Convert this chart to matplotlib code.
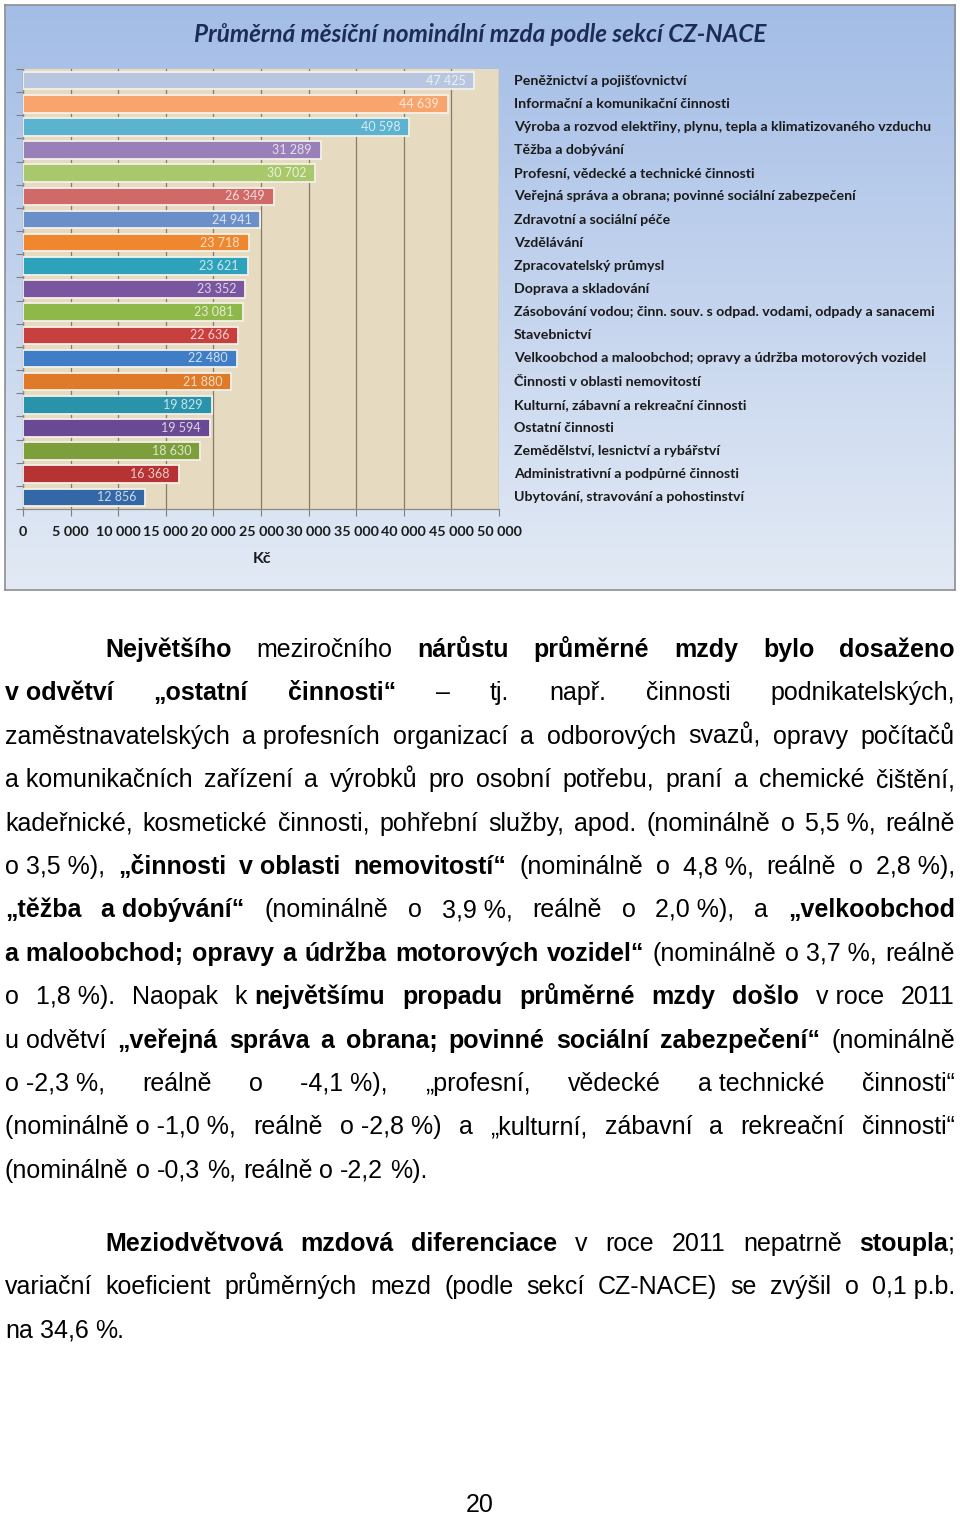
import matplotlib
matplotlib.use('Agg')
import matplotlib.pyplot as plt
from matplotlib.colors import LinearSegmentedColormap, to_rgb
from matplotlib.ticker import FixedLocator, FuncFormatter
import numpy as np

W, H = 960, 1516

sections = [
    'Peněžnictví a pojišťovnictví',
    'Informační a komunikační činnosti',
    'Výroba a rozvod elektřiny, plynu, tepla a klimatizovaného vzduchu',
    'Těžba a dobývání',
    'Profesní, vědecké a technické činnosti',
    'Veřejná správa a obrana; povinné sociální zabezpečení',
    'Zdravotní a sociální péče',
    'Vzdělávání',
    'Zpracovatelský průmysl',
    'Doprava a skladování',
    'Zásobování vodou; činn. souv. s odpad. vodami, odpady a sanacemi',
    'Stavebnictví',
    'Velkoobchod a maloobchod; opravy a údržba motorových vozidel',
    'Činnosti v oblasti nemovitostí',
    'Kulturní, zábavní a rekreační činnosti',
    'Ostatní činnosti',
    'Zemědělství, lesnictví a rybářství',
    'Administrativní a podpůrné činnosti',
    'Ubytování, stravování a pohostinství',
]
wages = [47425, 44639, 40598, 31289, 30702, 26349, 24941, 23718, 23621, 23352,
         23081, 22636, 22480, 21880, 19829, 19594, 18630, 16368, 12856]
bar_colors = ['#b8c6e0', '#f8a46c', '#5cb3cf', '#9a80b8', '#a9c76b', '#cf6a68',
              '#6b8fc8', '#ef872e', '#2fa2bb', '#7a55a0', '#8fb84a', '#c8403d',
              '#3f7ec6', '#df7a28', '#2893ab', '#694994', '#7c9f3b', '#b73232',
              '#3467a6']
x_ticks = [0, 5000, 10000, 15000, 20000, 25000, 30000, 35000, 40000, 45000, 50000]

title = 'Průměrná měsíční nominální mzda podle sekcí CZ-NACE'
x_label = 'Kč'

# page text, ** toggles bold, \u00a0 = non-breaking space
para1 = [
    '**Největšího** meziročního **nárůstu průměrné mzdy bylo dosaženo**',
    '**v\u00a0odvětví „ostatní činnosti“** – tj. např. činnosti podnikatelských,',
    'zaměstnavatelských a\u00a0profesních organizací a odborových svazů, opravy počítačů',
    'a\u00a0komunikačních zařízení a výrobků pro osobní potřebu, praní a chemické čištění,',
    'kadeřnické, kosmetické činnosti, pohřební služby, apod. (nominálně o 5,5\u00a0%, reálně',
    'o\u00a03,5\u00a0%), **„činnosti v\u00a0oblasti nemovitostí“** (nominálně o 4,8\u00a0%, reálně o 2,8\u00a0%),',
    '**„těžba a\u00a0dobývání“** (nominálně o 3,9\u00a0%, reálně o 2,0\u00a0%), a **„velkoobchod**',
    '**a\u00a0maloobchod; opravy a údržba motorových vozidel“** (nominálně o\u00a03,7\u00a0%, reálně',
    'o 1,8\u00a0%). Naopak k\u00a0**největšímu propadu průměrné mzdy došlo** v\u00a0roce 2011',
    'u\u00a0odvětví **„veřejná správa a obrana; povinné sociální zabezpečení“** (nominálně',
    'o\u00a0-2,3\u00a0%, reálně o -4,1\u00a0%), „profesní, vědecké a\u00a0technické činnosti“',
    '(nominálně\u00a0o\u00a0-1,0\u00a0%, reálně o\u00a0-2,8\u00a0%) a „kulturní, zábavní a rekreační činnosti“',
    '(nominálně o -0,3 %, reálně o -2,2 %).',
]
para2 = [
    '**Meziodvětvová mzdová diferenciace** v roce 2011 nepatrně **stoupla**;',
    'variační koeficient průměrných mezd (podle sekcí CZ-NACE) se zvýšil o 0,1\u00a0p.b.',
    'na 34,6 %.',
]


def fx(px):
    return px / W


def fy(py):
    return 1 - py / H


def lighten(c, k):
    r, g, b = to_rgb(c)
    return (r + (1 - r) * k, g + (1 - g) * k, b + (1 - b) * k)


fig = plt.figure(figsize=(W / 100, H / 100), dpi=100, facecolor='white')
chart_font = ['Lato', 'DejaVu Sans']

# chart frame with blue gradient
ax_bg = fig.add_axes([fx(5), fy(590), fx(950), 585 / H], zorder=0)
grad = np.linspace(0, 1, 256).reshape(-1, 1)
cmap = LinearSegmentedColormap.from_list('bg', ['#a3bde6', '#c4d4ee', '#e3eaf5'])
ax_bg.imshow(grad, aspect='auto', cmap=cmap, extent=[0, 1, 0, 1])
ax_bg.set_xticks([])
ax_bg.set_yticks([])
for s in ax_bg.spines.values():
    s.set_color('#8e8e8e')
    s.set_linewidth(1.2)

ax = fig.add_axes([fx(23), fy(509), fx(476), 440 / H], zorder=1)
ax.set_facecolor('#e6dac0')
ypos = np.arange(len(wages))
ax.barh(ypos, wages, height=0.76, color=bar_colors, edgecolor='#f4f1ea',
        linewidth=1.3, zorder=3)
for y, v, c in zip(ypos, wages, bar_colors):
    ax.annotate(f'{v:,}'.replace(',', ' '), (v, y), xytext=(-6.5, 0),
                textcoords='offset points', ha='right', va='center',
                fontsize=9, family=chart_font, color=lighten(c, 0.75), zorder=4)
    ax.text(1.031, y, sections[y], transform=ax.get_yaxis_transform(),
            ha='left', va='center', fontsize=10.2, family=chart_font,
            weight='bold', color='#1a1a1a')

ax.set_xlim(0, 50000)
ax.set_ylim(len(wages) - 0.5, -0.5)
ax.xaxis.set_major_locator(FixedLocator(x_ticks))
ax.xaxis.set_major_formatter(FuncFormatter(lambda v, p: f'{int(v):,}'.replace(',', ' ')))
ax.yaxis.set_major_locator(FixedLocator(np.arange(-0.5, len(wages), 1)))
ax.set_yticklabels([])
ax.grid(axis='x', color='#857c6b', linewidth=0.9, zorder=1)
ax.set_axisbelow(True)
ax.tick_params(axis='x', length=5, width=0.8, color='#7f7f7f', pad=7,
               labelsize=10.3, labelcolor='#1a1a1a')
ax.tick_params(axis='y', length=5, width=0.8, color='#7f7f7f')
for lbl in ax.get_xticklabels():
    lbl.set_family(chart_font)
    lbl.set_weight('bold')
for side in ['top', 'right']:
    ax.spines[side].set_visible(False)
for side in ['left', 'bottom']:
    ax.spines[side].set_color('#8a8a8a')
    ax.spines[side].set_linewidth(0.9)

fig.text(fx(262), fy(559), x_label, ha='center', va='center', fontsize=11.5,
         weight='bold', family=chart_font, color='#1a1a1a')
fig.text(fx(480), fy(35), title, ha='center', va='center', fontsize=17.5,
         weight='bold', style='italic', family=chart_font, color='#1d2b58')

# justified body text
text_font = ['Liberation Sans', 'DejaVu Sans']
text_size = 18
renderer = fig.canvas.get_renderer()
_cache = {}


def width(s, bold):
    key = (s, bold)
    if key not in _cache:
        t = fig.text(0, 0, s, fontsize=text_size, family=text_font,
                     weight='bold' if bold else 'normal')
        _cache[key] = t.get_window_extent(renderer).width
        t.remove()
    return _cache[key]


def parse(line):
    words = [[]]
    for i, chunk in enumerate(line.split('**')):
        bold = i % 2 == 1
        for j, part in enumerate(chunk.split(' ')):
            if j > 0:
                words.append([])
            if part:
                words[-1].append((part, bold))
    return [w for w in words if w]


def draw_paragraph(lines, first_base, step=43.4, left=5, right=955, indent=100):
    space = width('a a', False) - width('aa', False)
    for n, line in enumerate(lines):
        words = parse(line)
        x0 = left + indent if n == 0 else left
        wsum = sum(width(s, b) for w in words for s, b in w)
        last = n == len(lines) - 1
        gap = space if last or len(words) < 2 else (right - x0 - wsum) / (len(words) - 1)
        x = x0
        y = first_base + n * step
        for w in words:
            for s, b in w:
                fig.text(fx(x), fy(y), s, fontsize=text_size, family=text_font,
                         weight='bold' if b else 'normal', va='baseline',
                         ha='left', color='black')
                x += width(s, b)
            x += gap


draw_paragraph(para1, 657)
draw_paragraph(para2, 1251)

fig.text(fx(480), fy(1512), '20', ha='center', va='baseline', fontsize=text_size,
         family=text_font, color='black')

fig.savefig('out.png', dpi=100, facecolor='white')
